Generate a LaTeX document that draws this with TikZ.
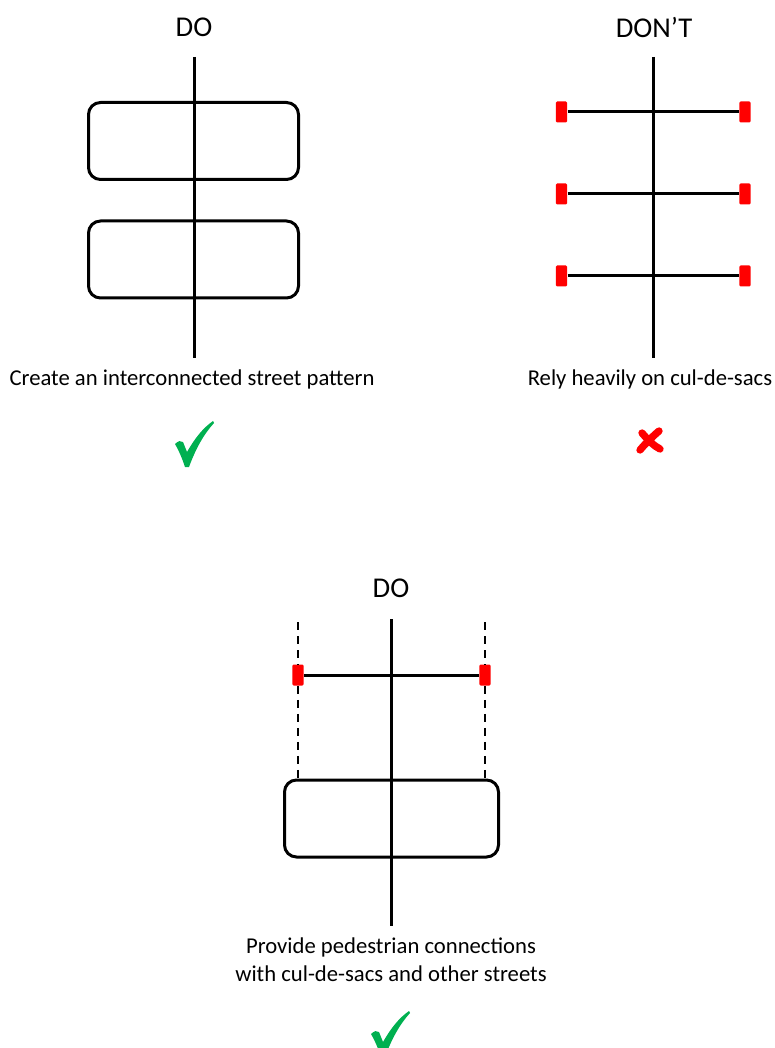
\documentclass[tikz,border=0pt]{standalone}
\usepackage{fontspec}
\setmainfont{Carlito}
\definecolor{okgreen}{RGB}{0,176,80}
\tikzset{
  street/.style={line width=2.25pt},
  block/.style={draw, line width=2.25pt, rounded corners=9pt, minimum width=157.5pt, minimum height=57.75pt, inner sep=0pt},
  culdesac/.style={fill=red, rounded corners=1pt, minimum width=8.6pt, minimum height=15.75pt, inner sep=0pt},
  walkway/.style={line width=1.5pt, dash pattern=on 6pt off 4.5pt},
  heading/.style={font=\fontsize{21.5}{25}\selectfont},
  caption/.style={font=\fontsize{17}{21}\selectfont, align=center}
}
\begin{document}
\begin{tikzpicture}[x=0.75pt,y=-0.75pt]
\useasboundingbox (0,0) rectangle (774,1048);
\node[heading] (h1) at (194,27) {DO};
\node[heading] (h2) at (654,27) {DON’T};
\node[heading] (h3) at (391,588) {DO};
\coordinate (a0) at (194,57);
\coordinate (a1) at (194,358);
\node[block] (b1) at (193.5,141) {};
\node[block] (b2) at (193.5,259.5) {};
\coordinate (d0) at (653,57);
\coordinate (d1) at (653,358);
\node[culdesac] (l1) at (561.5,112) {};
\node[culdesac] (r1) at (745,112) {};
\node[culdesac] (l2) at (561.5,194) {};
\node[culdesac] (r2) at (745,194) {};
\node[culdesac] (l3) at (561.5,276) {};
\node[culdesac] (r3) at (745,276) {};
\node[caption] (t1) at (192,379) {Create an interconnected street pattern};
\node[caption] (t2) at (650,379) {Rely heavily on cul-de-sacs};
\coordinate (e0) at (391,619);
\coordinate (e1) at (391,926);
\node[culdesac] (l4) at (298,675) {};
\node[culdesac] (r4) at (485,675) {};
\coordinate (w1) at (298,622);
\coordinate (w2) at (485,622);
\node[block, minimum width=160.5pt] (b3) at (391.5,818.5) {};
\node[caption] (t3) at (391,960) {Provide pedestrian connections\\ with cul-de-sacs and other streets};
\draw[street] (a0) -- (a1);
\draw[street] (d0) -- (d1);
\draw[street] (l1) -- (r1);
\draw[street] (l2) -- (r2);
\draw[street] (l3) -- (r3);
\draw[street] (e0) -- (e1);
\draw[street] (l4) -- (r4);
\draw[walkway] (w1) -- (l4) -- (w1 |- b3.north);
\draw[walkway] (w2) -- (r4) -- (w2 |- b3.north);
\fill[okgreen] (175,444) .. controls (178,441) and (181,440) .. (183,442) -- (187,452) .. controls (195,438) and (203,428) .. (213,421) -- (214,423) .. controls (204,434) and (196,448) .. (189,467) -- (185,467) .. controls (182,458) and (179,451) .. (175,444) -- cycle;
\fill[okgreen] (371,1034) .. controls (374,1031) and (377,1030) .. (379,1032) -- (383,1042) .. controls (391,1028) and (399,1018) .. (409,1011) -- (410,1013) .. controls (400,1024) and (392,1038) .. (385,1057) -- (381,1057) .. controls (378,1048) and (375,1041) .. (371,1034) -- cycle;
\draw[red, line width=5.5pt, line cap=round] (642,433) .. controls (648,440) and (654,446) .. (660,449);
\draw[red, line width=5.5pt, line cap=round] (659,431) .. controls (652,437) and (645,444) .. (640,450);
\end{tikzpicture}
\end{document}
